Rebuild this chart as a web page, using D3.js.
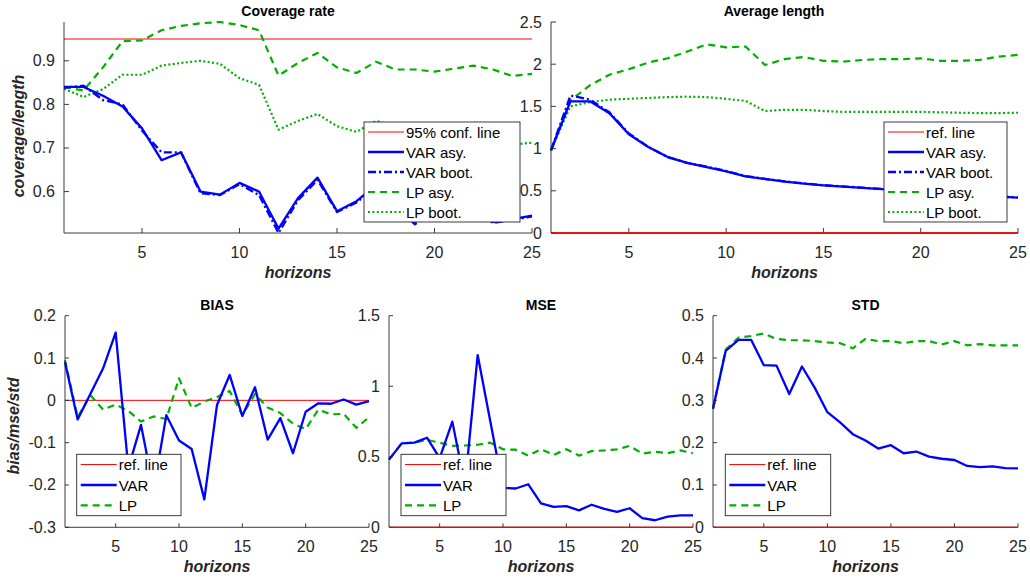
<!DOCTYPE html>
<html>
<head>
<meta charset="utf-8">
<script src="https://cdn.jsdelivr.net/npm/d3@7"></script>
<style>
  html, body { margin: 0; padding: 0; background: #fff; }
  svg { display: block; font-family: "Liberation Sans", Arial, sans-serif; }
</style>
</head>
<body>
<svg id="chart" width="1030" height="583"></svg>
<script>
// horizons 1..25
const horizons = d3.range(1, 26);

// coverage rate
const covVarAsy  = [0.84, 0.84, 0.82, 0.795, 0.745, 0.672, 0.69, 0.60, 0.593, 0.62, 0.60, 0.515, 0.585, 0.632, 0.555, 0.578, 0.615, 0.57, 0.53, 0.56, 0.575, 0.565, 0.53, 0.537, 0.545];
const covVarBoot = [0.838, 0.843, 0.81, 0.80, 0.74, 0.69, 0.69, 0.596, 0.592, 0.617, 0.592, 0.505, 0.58, 0.627, 0.553, 0.575, 0.61, 0.565, 0.525, 0.555, 0.57, 0.56, 0.528, 0.535, 0.543];
const covLpAsy   = [0.84, 0.832, 0.885, 0.945, 0.947, 0.97, 0.98, 0.986, 0.989, 0.982, 0.97, 0.866, 0.895, 0.918, 0.885, 0.872, 0.898, 0.88, 0.88, 0.875, 0.882, 0.889, 0.88, 0.865, 0.87];
const covLpBoot  = [0.836, 0.817, 0.835, 0.868, 0.868, 0.889, 0.895, 0.90, 0.893, 0.86, 0.845, 0.742, 0.762, 0.778, 0.75, 0.737, 0.762, 0.75, 0.74, 0.73, 0.725, 0.72, 0.715, 0.708, 0.712];
const covRef = 0.95;

// average length
const lenVarAsy  = [0.98, 1.56, 1.56, 1.42, 1.17, 1.02, 0.90, 0.83, 0.78, 0.73, 0.67, 0.64, 0.61, 0.585, 0.565, 0.55, 0.535, 0.52, 0.505, 0.49, 0.475, 0.46, 0.445, 0.43, 0.42];
const lenVarBoot = [0.98, 1.63, 1.58, 1.43, 1.18, 1.02, 0.90, 0.83, 0.785, 0.735, 0.675, 0.64, 0.612, 0.587, 0.567, 0.552, 0.537, 0.522, 0.507, 0.492, 0.477, 0.462, 0.447, 0.432, 0.422];
const lenLpAsy   = [0.98, 1.57, 1.75, 1.875, 1.94, 2.02, 2.07, 2.15, 2.235, 2.20, 2.21, 1.99, 2.06, 2.085, 2.04, 2.03, 2.05, 2.06, 2.06, 2.07, 2.04, 2.04, 2.05, 2.09, 2.11];
const lenLpBoot  = [0.98, 1.50, 1.55, 1.58, 1.59, 1.60, 1.61, 1.615, 1.61, 1.59, 1.565, 1.445, 1.46, 1.46, 1.445, 1.435, 1.435, 1.435, 1.435, 1.435, 1.43, 1.425, 1.42, 1.42, 1.425];

// bias / mse / std
const biasVar = [0.09, -0.045, 0.015, 0.075, 0.16, -0.16, -0.058, -0.21, -0.035, -0.095, -0.115, -0.234, -0.011, 0.06, -0.037, 0.031, -0.093, -0.042, -0.125, -0.027, -0.007, -0.008, 0.002, -0.01, -0.002];
const biasLp  = [0.095, -0.04, 0.012, -0.022, -0.01, -0.025, -0.05, -0.038, -0.044, 0.052, -0.018, -0.003, 0.008, 0.022, -0.035, 0.015, -0.017, -0.03, -0.055, -0.068, -0.022, -0.033, -0.032, -0.065, -0.04];
const mseVar  = [0.48, 0.595, 0.60, 0.635, 0.49, 0.749, 0.30, 1.221, 0.75, 0.28, 0.275, 0.305, 0.17, 0.145, 0.15, 0.12, 0.16, 0.13, 0.11, 0.135, 0.065, 0.05, 0.075, 0.085, 0.085];
const mseLp   = [0.48, 0.595, 0.60, 0.62, 0.60, 0.577, 0.58, 0.585, 0.60, 0.553, 0.55, 0.508, 0.553, 0.513, 0.553, 0.508, 0.54, 0.545, 0.553, 0.577, 0.523, 0.535, 0.525, 0.545, 0.525];
const stdVar  = [0.28, 0.417, 0.443, 0.443, 0.383, 0.382, 0.315, 0.38, 0.33, 0.272, 0.248, 0.22, 0.205, 0.186, 0.194, 0.175, 0.179, 0.167, 0.162, 0.159, 0.145, 0.142, 0.144, 0.14, 0.139];
const stdLp   = [0.28, 0.42, 0.448, 0.452, 0.458, 0.445, 0.442, 0.442, 0.44, 0.437, 0.435, 0.423, 0.445, 0.44, 0.44, 0.435, 0.44, 0.44, 0.432, 0.44, 0.43, 0.433, 0.43, 0.43, 0.43];

const xTicks = [5, 10, 15, 20, 25];

const AXIS = '#262626';
const RED = '#ff0000';
const BLUE = '#0000ff';
const GREEN = '#00b000';

const styles = {
    ref:     { color: RED,   width: 1,   dash: null },
    varAsy:  { color: BLUE,  width: 2.3, dash: null },
    varBoot: { color: BLUE,  width: 2.3, dash: '8,3,2,3' },
    lpAsy:   { color: GREEN, width: 2.2, dash: '7,5' },
    lpBoot:  { color: GREEN, width: 2.2, dash: '2,2.4' }
};

const fmt = (v) => String(+v.toFixed(2));

const svg = d3.select('#chart');

function drawPanel(p) {
    const g = svg.append('g');
    const x = d3.scaleLinear().domain([1, 25]).range([p.left, p.right]);
    const y = d3.scaleLinear().domain(p.yDomain).range([p.bottom, p.top]);
    const tick = p.tickLen;

    // series
    const line = d3.line().x((d) => x(d[0])).y((d) => y(d[1]));
    p.series.forEach((s) => {
        const st = styles[s.style];
        const pts = Array.isArray(s.values)
            ? horizons.map((h, i) => [h, s.values[i]])
            : [[1, s.values], [25, s.values]];
        g.append('path')
            .datum(pts)
            .attr('d', line)
            .attr('fill', 'none')
            .attr('stroke', st.color)
            .attr('stroke-width', st.width)
            .attr('stroke-dasharray', st.dash)
            .attr('stroke-linejoin', 'round');
    });

    // axes (box off, ticks inward)
    const ax = g.append('g').attr('stroke', AXIS).attr('stroke-width', 0.9).attr('fill', 'none');
    ax.append('line').attr('x1', p.left).attr('x2', p.right).attr('y1', p.bottom).attr('y2', p.bottom);
    ax.append('line').attr('x1', p.left).attr('x2', p.left).attr('y1', p.top).attr('y2', p.bottom);
    xTicks.forEach((t) => {
        ax.append('line').attr('x1', x(t)).attr('x2', x(t)).attr('y1', p.bottom).attr('y2', p.bottom - tick);
    });
    p.yTicks.forEach((t) => {
        ax.append('line').attr('x1', p.left).attr('x2', p.left + tick).attr('y1', y(t)).attr('y2', y(t));
    });

    // re-draw reference line on top of the axis when it sits on it
    if (p.refOnAxis) {
        const st = styles.ref;
        g.append('line')
            .attr('x1', p.left).attr('x2', p.right)
            .attr('y1', y(p.yDomain[0])).attr('y2', y(p.yDomain[0]))
            .attr('stroke', st.color).attr('stroke-width', 1.3);
    }

    const labels = g.append('g').attr('fill', AXIS).style('font-size', '16px');
    xTicks.forEach((t) => {
        labels.append('text').attr('x', x(t)).attr('y', p.bottom + 25)
            .attr('text-anchor', 'middle').text(t);
    });
    p.yTicks.forEach((t) => {
        labels.append('text').attr('x', p.left - 9).attr('y', y(t) + 5.5)
            .attr('text-anchor', 'end').text(fmt(t));
    });

    g.append('text')
        .attr('x', p.titleX !== undefined ? p.titleX : (p.left + p.right) / 2)
        .attr('y', p.top - 6)
        .attr('text-anchor', 'middle')
        .style('font-size', '14px').style('font-weight', 'bold')
        .attr('fill', '#000')
        .text(p.title);

    g.append('text')
        .attr('x', (p.left + p.right) / 2)
        .attr('y', p.bottom + 45)
        .attr('text-anchor', 'middle')
        .style('font-size', '16px').style('font-weight', 'bold').style('font-style', 'italic')
        .attr('fill', AXIS)
        .text('horizons');

    if (p.yLabel) {
        g.append('text')
            .attr('transform', `translate(${p.yLabel.x},${p.yLabel.y}) rotate(-90)`)
            .attr('text-anchor', 'middle')
            .style('font-size', '16px').style('font-weight', 'bold').style('font-style', 'italic')
            .attr('fill', AXIS)
            .text(p.yLabel.text);
    }
}

function drawLegend(l) {
    const g = svg.append('g');
    g.append('rect')
        .attr('x', l.x0).attr('y', l.y0)
        .attr('width', l.x1 - l.x0).attr('height', l.y1 - l.y0)
        .attr('fill', '#fff').attr('stroke', AXIS).attr('stroke-width', 0.9);
    const step = (l.y1 - l.y0) / l.entries.length;
    l.entries.forEach((e, i) => {
        const cy = l.y0 + step * (i + 0.5);
        const st = styles[e.style];
        g.append('line')
            .attr('x1', l.x0 + 4).attr('x2', l.x0 + 40)
            .attr('y1', cy).attr('y2', cy)
            .attr('stroke', st.color).attr('stroke-width', st.width)
            .attr('stroke-dasharray', st.dash);
        g.append('text')
            .attr('x', l.x0 + 42).attr('y', cy + 5.5)
            .style('font-size', '15px').attr('fill', '#000')
            .text(e.label);
    });
}

const topSeries = (a, b, c, d, ref) => [
    { style: 'ref', values: ref },
    { style: 'lpBoot', values: d },
    { style: 'lpAsy', values: c },
    { style: 'varBoot', values: b },
    { style: 'varAsy', values: a }
];

const covAll = [covVarAsy, covVarBoot, covLpAsy, covLpBoot, [covRef]].flat();

drawPanel({
    left: 64, right: 532, top: 22, bottom: 233, tickLen: 5,
    yDomain: d3.extent(covAll),
    yTicks: [0.6, 0.7, 0.8, 0.9],
    title: 'Coverage rate', titleX: 288,
    yLabel: { x: 24, y: 136, text: 'coverage/length' },
    series: topSeries(covVarAsy, covVarBoot, covLpAsy, covLpBoot, covRef)
});

drawPanel({
    left: 551, right: 1018, top: 22, bottom: 233, tickLen: 5,
    yDomain: [0, 2.5],
    yTicks: [0, 0.5, 1, 1.5, 2, 2.5],
    title: 'Average length', titleX: 774,
    refOnAxis: true,
    series: topSeries(lenVarAsy, lenVarBoot, lenLpAsy, lenLpBoot, 0)
});

const bottomSeries = (a, b) => [
    { style: 'ref', values: 0 },
    { style: 'lpAsy', values: b },
    { style: 'varAsy', values: a }
];

drawPanel({
    left: 65, right: 369, top: 315.7, bottom: 527.3, tickLen: 4,
    yDomain: [-0.3, 0.2],
    yTicks: [-0.3, -0.2, -0.1, 0, 0.1, 0.2],
    title: 'BIAS',
    yLabel: { x: 19, y: 426, text: 'bias/mse/std' },
    series: bottomSeries(biasVar, biasLp)
});

drawPanel({
    left: 389, right: 693, top: 315.7, bottom: 527.3, tickLen: 4,
    yDomain: [0, 1.5],
    yTicks: [0, 0.5, 1, 1.5],
    title: 'MSE',
    refOnAxis: true,
    series: bottomSeries(mseVar, mseLp)
});

drawPanel({
    left: 713, right: 1018, top: 315.7, bottom: 527.3, tickLen: 4,
    yDomain: [0, 0.5],
    yTicks: [0, 0.1, 0.2, 0.3, 0.4, 0.5],
    title: 'STD',
    refOnAxis: true,
    series: bottomSeries(stdVar, stdLp)
});

// legends sit above every axes
const fiveEntries = (first) => [
    { style: 'ref', label: first },
    { style: 'varAsy', label: 'VAR asy.' },
    { style: 'varBoot', label: 'VAR boot.' },
    { style: 'lpAsy', label: 'LP asy.' },
    { style: 'lpBoot', label: 'LP boot.' }
];
const threeEntries = [
    { style: 'ref', label: 'ref. line' },
    { style: 'varAsy', label: 'VAR' },
    { style: 'lpAsy', label: 'LP' }
];

drawLegend({ x0: 364, x1: 520, y0: 122, y1: 222, entries: fiveEntries('95% conf. line') });
drawLegend({ x0: 884, x1: 1007, y0: 122, y1: 222, entries: fiveEntries('ref. line') });
drawLegend({ x0: 76.7, x1: 181, y0: 454.3, y1: 515.7, entries: threeEntries });
drawLegend({ x0: 401, x1: 506, y0: 454.3, y1: 515.7, entries: threeEntries });
drawLegend({ x0: 725.3, x1: 830.7, y0: 454.3, y1: 515.7, entries: threeEntries });
</script>
</body>
</html>
